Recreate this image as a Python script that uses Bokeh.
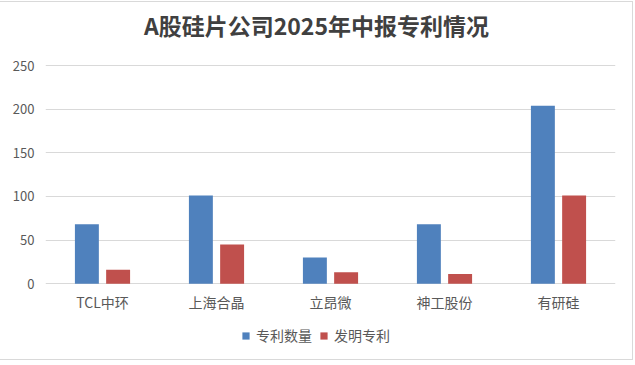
from bokeh.plotting import figure
from bokeh.models import (FactorRange, Range1d, Legend, LegendItem,
                          ColumnDataSource, FixedTicker, Label)
from bokeh.transform import dodge
from bokeh.embed import file_html
from bokeh.resources import INLINE

# ---- data ----
companies = ["TCL中环", "上海合晶", "立昂微", "神工股份", "有研硅"]
patent_count = [68, 101, 30, 68, 204]      # 专利数量
invention_patents = [16, 45, 13, 11, 101]  # 发明专利
series_names = ["专利数量", "发明专利"]
y_ticks = [0, 50, 100, 150, 200, 250]

title_text = "A股硅片公司2025年中报专利情况"

FONT = "Noto Sans CJK SC"
BLUE = "#4F81BD"
RED = "#C0504D"
GRID = "#D9D9D9"
LABEL = "#595959"

src = ColumnDataSource(dict(company=companies,
                            patents=patent_count,
                            invention=invention_patents,
                            zero=[0] * len(companies)))

# the frame spans the title, category-label and legend bands as well
p = figure(x_range=FactorRange(*companies), y_range=Range1d(-85.7, 322.25),
           width=633, height=359, output_backend="svg",
           toolbar_location=None, x_axis_location=None,
           min_border_left=45, min_border_right=18,
           min_border_top=0, min_border_bottom=3,
           background_fill_color="white", border_fill_color="white")
p.styles = {"border-top": "1px solid #d9d9d9",
            "border-right": "1px solid #d9d9d9",
            "border-bottom": "1px solid #d9d9d9",
            "margin-top": "1px"}

p.outline_line_color = None

r1 = p.vbar(x=dodge("company", -0.137, range=p.x_range), top="patents",
            width=0.21, source=src, fill_color=BLUE, line_color=None)
r2 = p.vbar(x=dodge("company", 0.137, range=p.x_range), top="invention",
            width=0.21, source=src, fill_color=RED, line_color=None)

# category labels under the baseline
p.text(x="company", y="zero", text="company", source=src,
       text_align="center", text_baseline="middle", y_offset=18,
       text_font={"value": FONT}, text_font_size="14px", text_color=LABEL)

# title
title = Label(x=271, y=334, x_units="screen", y_units="screen",
              text=title_text, text_align="center", text_baseline="middle",
              text_font=FONT, text_font_size="23px", text_font_style="bold",
              text_color="#404040")
p.add_layout(title)

# y axis
p.yaxis.ticker = FixedTicker(ticks=y_ticks)
p.yaxis.axis_line_color = None
p.yaxis.major_tick_line_color = None
p.yaxis.minor_tick_line_color = None
p.yaxis.major_tick_out = 0
p.yaxis.major_tick_in = 0
p.yaxis.minor_tick_out = 0
p.yaxis.major_label_text_font = FONT
p.yaxis.major_label_text_font_size = "13px"
p.yaxis.major_label_text_color = LABEL
p.yaxis.major_label_standoff = 11

p.xgrid.grid_line_color = None
p.ygrid.ticker = FixedTicker(ticks=y_ticks)
p.ygrid.grid_line_color = GRID
p.ygrid.grid_line_width = 1

legend = Legend(items=[LegendItem(label=series_names[0], renderers=[r1]),
                       LegendItem(label=series_names[1], renderers=[r2])],
                orientation="horizontal", location=(196, 13))
legend.label_text_font = FONT
legend.label_text_font_size = "14px"
legend.label_text_color = LABEL
legend.glyph_width = 9
legend.glyph_height = 9
legend.label_standoff = 6
legend.spacing = 7
legend.padding = 0
legend.margin = 0
legend.border_line_color = None
legend.background_fill_alpha = 0
p.add_layout(legend)

open("out.html", "w").write(file_html(p, INLINE))
